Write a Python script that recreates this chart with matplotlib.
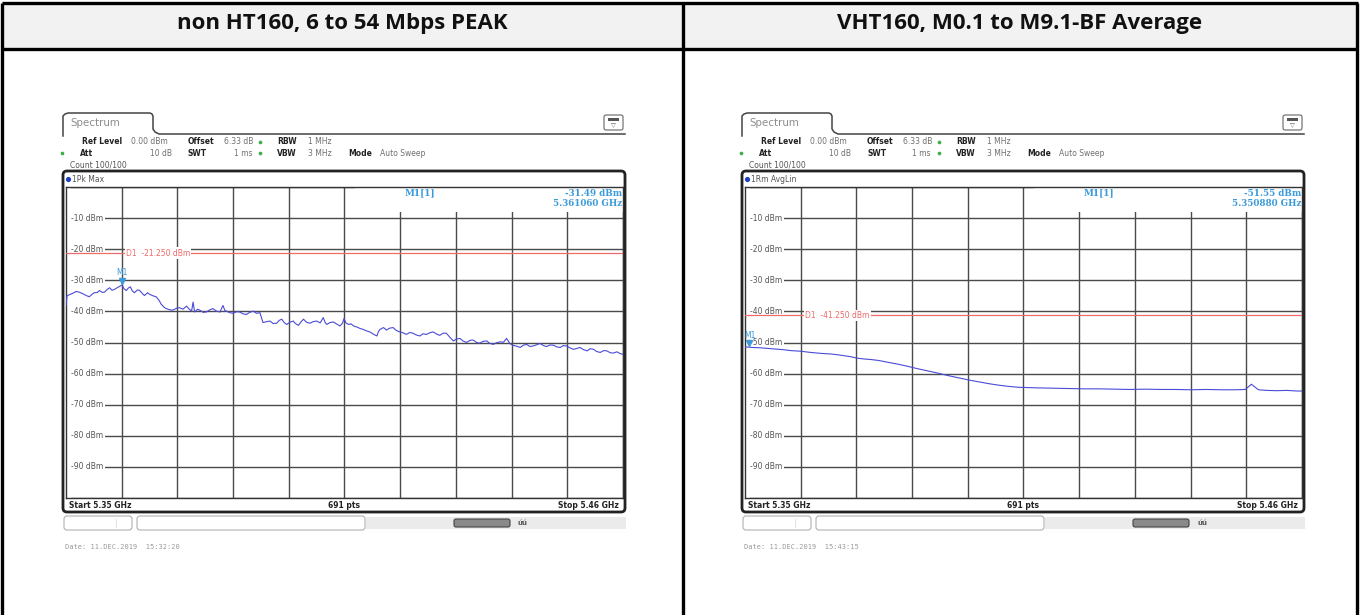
import matplotlib
matplotlib.use('Agg')
import matplotlib.pyplot as plt
import matplotlib.transforms as mtransforms
from matplotlib.patches import Rectangle, FancyBboxPatch
import numpy as np

# ---------------- data ----------------
titles = ['non HT160, 6 to 54 Mbps PEAK', 'VHT160, M0.1 to M9.1-BF Average']
trace_labels = ['1Pk Max', '1Rm AvgLin']
dates = ['Date: 11.DEC.2019  15:32:20', 'Date: 11.DEC.2019  15:43:15']
start_ghz, stop_ghz = 5.35, 5.46
sweep_pts = 691
y_top, y_bottom = 0, -100
y_tick_vals = [-10, -20, -30, -40, -50, -60, -70, -80, -90]
d1_levels = [-21.25, -41.25]
m1_freq_ghz = [5.361060, 5.350880]
m1_level = [-31.49, -51.55]

peak_freq_mhz = [
    5350.0, 5350.2, 5350.7, 5351.3, 5352.0, 5352.6, 5353.3, 5354.0, 5354.6, 5355.2,
    5355.6, 5356.2, 5356.6, 5357.2, 5357.6, 5358.1, 5358.6, 5359.1, 5359.6, 5360.2,
    5361.1, 5361.4, 5361.9, 5362.3, 5362.7, 5363.1, 5363.5, 5364.1, 5364.5, 5365.1,
    5365.5, 5366.1, 5366.5, 5367.2, 5367.8, 5368.4, 5368.8, 5369.4, 5369.8, 5370.5,
    5371.1, 5371.8, 5372.4, 5373.1, 5373.8, 5374.3, 5374.8, 5375.1, 5375.4, 5376.0,
    5376.4, 5377.1, 5377.7, 5378.4, 5379.0, 5379.7, 5380.4, 5381.0, 5381.4, 5381.7,
    5382.3, 5383.0, 5383.7, 5384.3, 5385.0, 5385.6, 5386.3, 5387.0, 5387.6, 5388.3,
    5388.6, 5388.9, 5389.6, 5390.3, 5390.9, 5391.6, 5392.1, 5392.6, 5393.1, 5393.6,
    5394.2, 5394.9, 5395.3, 5395.9, 5396.4, 5396.9, 5397.5, 5398.2, 5398.8, 5399.5,
    5400.2, 5400.8, 5401.2, 5401.5, 5402.1, 5402.8, 5403.5, 5404.1, 5404.6, 5404.9,
    5405.3, 5405.8, 5406.3, 5406.8, 5407.4, 5408.1, 5408.7, 5409.4, 5410.0, 5410.4,
    5410.9, 5411.4, 5411.7, 5412.0, 5412.7, 5413.3, 5413.9, 5414.6, 5415.2, 5415.9,
    5416.6, 5417.2, 5417.9, 5418.5, 5419.2, 5419.9, 5420.5, 5421.2, 5421.8, 5422.5,
    5423.2, 5423.8, 5424.5, 5425.1, 5425.8, 5426.5, 5427.1, 5427.8, 5428.4, 5429.1,
    5429.8, 5430.4, 5431.1, 5431.7, 5432.4, 5433.1, 5433.7, 5434.4, 5435.0, 5435.7,
    5436.4, 5437.0, 5437.7, 5438.3, 5439.0, 5439.7, 5440.3, 5441.0, 5441.6, 5442.3,
    5443.0, 5443.6, 5444.3, 5444.9, 5445.6, 5446.3, 5446.9, 5447.6, 5448.2, 5448.9,
    5449.6, 5450.2, 5450.9, 5451.5, 5452.2, 5452.9, 5453.5, 5454.2, 5454.8, 5455.5,
    5456.2, 5456.8, 5457.5, 5458.1, 5458.8, 5459.5, 5460.0]
peak_dbm = [
    -38.1, -35.0, -34.6, -34.2, -33.6, -33.8, -34.3, -34.9, -35.3, -34.4,
    -34.0, -33.9, -33.3, -33.9, -33.8, -33.0, -32.4, -33.2, -32.9, -32.3,
    -31.5, -32.6, -33.3, -32.5, -32.1, -33.4, -34.0, -33.1, -33.2, -34.3,
    -34.9, -34.0, -34.5, -35.0, -35.3, -36.5, -37.7, -38.7, -39.1, -39.5,
    -39.6, -39.0, -38.8, -39.3, -38.3, -39.2, -39.9, -37.0, -40.2, -39.3,
    -39.6, -40.3, -40.2, -39.5, -39.1, -39.9, -40.2, -38.1, -39.8, -39.9,
    -40.4, -40.6, -40.1, -40.2, -40.8, -41.0, -40.3, -39.9, -40.6, -40.4,
    -42.0, -43.6, -43.3, -43.1, -43.9, -43.8, -42.9, -42.5, -43.6, -44.2,
    -43.5, -43.1, -43.9, -44.5, -43.4, -42.5, -43.5, -43.8, -43.3, -43.1,
    -43.7, -42.0, -43.6, -44.2, -43.6, -43.4, -44.1, -44.7, -43.8, -42.3,
    -43.7, -44.2, -44.0, -44.7, -45.0, -45.5, -45.8, -46.3, -46.6, -47.0,
    -47.5, -47.9, -46.5, -45.8, -45.2, -46.0, -45.4, -45.2, -46.1, -46.6,
    -46.9, -47.4, -46.8, -47.0, -47.6, -47.9, -47.2, -47.4, -46.9, -46.6,
    -47.3, -47.7, -47.0, -47.0, -48.3, -49.5, -48.9, -48.7, -49.5, -50.0,
    -49.3, -49.2, -50.0, -50.2, -49.6, -49.5, -50.3, -50.6, -50.1, -49.8,
    -49.9, -48.7, -50.4, -50.9, -51.2, -51.6, -50.9, -50.6, -51.3, -51.1,
    -50.7, -50.3, -51.0, -51.3, -50.8, -50.9, -51.4, -51.6, -51.0, -51.1,
    -51.8, -52.2, -51.9, -51.6, -52.3, -52.7, -52.0, -52.2, -52.9, -53.2,
    -52.6, -52.7, -53.3, -53.4, -53.0, -53.6, -53.8]

avg_freq_mhz = [
    5350.0, 5351.5, 5353.0, 5354.5, 5356.0, 5357.5, 5359.0, 5361.0, 5363.0, 5365.0,
    5367.0, 5369.0, 5371.0, 5372.0, 5373.5, 5375.0, 5376.5, 5378.0, 5380.0, 5382.0,
    5384.0, 5386.0, 5388.0, 5390.0, 5392.0, 5394.0, 5396.0, 5398.0, 5400.0, 5402.0,
    5404.0, 5406.0, 5408.0, 5411.0, 5414.0, 5417.0, 5420.0, 5423.0, 5426.0, 5429.0,
    5432.0, 5435.0, 5438.0, 5441.0, 5444.0, 5447.0, 5448.8, 5449.6, 5450.0, 5450.6,
    5451.4, 5453.0, 5455.0, 5457.0, 5459.0, 5460.0]
avg_dbm = [
    -51.4, -51.6, -51.7, -51.9, -52.1, -52.3, -52.6, -52.8, -53.2, -53.5,
    -53.7, -54.1, -54.6, -55.0, -55.3, -55.5, -55.8, -56.3, -56.9, -57.6,
    -58.4, -59.1, -59.8, -60.6, -61.3, -62.0, -62.6, -63.2, -63.7, -64.1,
    -64.4, -64.5, -64.6, -64.7, -64.8, -64.9, -64.9, -65.0, -65.1, -65.0,
    -65.1, -65.1, -65.2, -65.1, -65.2, -65.2, -65.1, -64.0, -63.4, -64.2,
    -65.2, -65.4, -65.5, -65.4, -65.6, -65.6]

traces = [(peak_freq_mhz, peak_dbm), (avg_freq_mhz, avg_dbm)]

# ---------------- layout ----------------
W, H = 1360, 615
fig = plt.figure(figsize=(W / 100, H / 100), dpi=100)
ov = fig.add_axes([0, 0, 1, 1], zorder=0)
ov.set_xlim(0, W); ov.set_ylim(H, 0); ov.axis('off')

# table
BK = '#000000'
ov.add_patch(Rectangle((3, 4), 1354, 45, fc='#f2f2f2', ec='none'))
for (xa, xb, ya, yb) in [(2, 1358, 3, 3), (2, 1358, 49, 49), (2, 2, 3, 615),
                         (1357, 1357, 3, 615), (683, 683, 3, 615)]:
    ov.plot([xa, xb], [ya, yb], color=BK, lw=2.4, solid_capstyle='butt')
for i, t in enumerate(titles):
    cx = [342, 1020][i]
    ov.text(cx, 24, t, ha='center', va='center', fontsize=16, fontweight='bold',
            family='Open Sans', color='#111')

GT, GB, GW = 187, 498, 557
LBL = '#222222'
VAL = '#707070'
GREEN = '#3fae49'
MBLUE = '#3b9ad9'
RED = '#f06a6a'
TRACE = '#4b4bd8'
GRID = '#4a4a4a'
fs = 5.5

for i, gx in enumerate([66, 745]):
    # tab + header line
    tab_x = [gx - 3, gx - 3, gx - 1, gx + 2, gx + 84, gx + 86, gx + 87, gx + 87, gx + 89, gx + 93, gx + 559]
    tab_y = [136, 116, 114, 113, 113, 114, 116, 129, 132, 134, 134]
    ov.plot(tab_x, tab_y, color='#444', lw=1.1)
    ov.text(gx + 4, 123, 'Spectrum', fontsize=7.4, color='#8c8c8c', va='center', family='DejaVu Sans')
    # icon
    ov.add_patch(FancyBboxPatch((gx + 538, 115), 19, 15, boxstyle='round,pad=0,rounding_size=2',
                                ec='#666', fc='white', lw=0.8))
    ov.add_patch(Rectangle((gx + 542, 118), 11, 3, fc='#555', ec='none'))
    ov.text(gx + 547.5, 125.5, '\u25bd', fontsize=4.5, ha='center', va='center', color='#555')

    # info rows
    def lab(x, y, s, bold=True, ha='left', col=None):
        ov.text(x, y, s, fontsize=fs, ha=ha, va='center',
                fontweight='bold' if bold else 'normal',
                color=col if col else (LBL if bold else VAL), family='DejaVu Sans')
    lab(gx + 16, 142, 'Ref Level')
    lab(gx + 65, 142, f'{y_top:.2f} dBm', False)
    lab(gx + 122, 142, 'Offset')
    lab(gx + 158, 142, '6.33 dB', False)
    lab(gx + 211, 142, 'RBW')
    lab(gx + 242, 142, '1 MHz', False)
    lab(gx + 14, 153, 'Att')
    lab(gx + 106, 153, '10 dB', False, ha='right')
    lab(gx + 122, 153, 'SWT')
    lab(gx + 186, 153, '1 ms', False, ha='right')
    lab(gx + 211, 153, 'VBW')
    lab(gx + 242, 153, '3 MHz', False)
    lab(gx + 282, 153, 'Mode')
    lab(gx + 314, 153, 'Auto Sweep', False)
    lab(gx + 4, 165, 'Count 100/100', False, col='#555')
    lab(gx + 6, 179, trace_labels[i], False, col='#555')
    ov.scatter([gx + 194, gx - 4, gx + 194], [142, 153, 153], s=7, color=GREEN, marker='o', lw=0)
    ov.scatter([gx + 2], [179], s=14, color='#1d3fc4', marker='o', lw=0)

    # trace box frame
    ov.add_patch(FancyBboxPatch((gx - 3, 171), GW + 5, 341, boxstyle='round,pad=0,rounding_size=4',
                                ec='#222', fc='none', lw=2.0))
    # bottom bar
    lab(gx + 3, 505, f'Start {start_ghz} GHz')
    lab(gx + 278, 505, f'{sweep_pts} pts', ha='center')
    lab(gx + 553, 505, f'Stop {stop_ghz} GHz', ha='right')
    # buttons
    ov.add_patch(FancyBboxPatch((gx - 2, 516), 68, 14, boxstyle='round,pad=0,rounding_size=3',
                                ec='#b0b0b0', fc='white', lw=0.8))
    ov.plot([gx + 50, gx + 50], [519, 527], color='#dddddd', lw=0.6)
    ov.add_patch(FancyBboxPatch((gx + 71, 516), 228, 14, boxstyle='round,pad=0,rounding_size=3',
                                ec='#b0b0b0', fc='white', lw=0.8))
    ov.add_patch(Rectangle((gx + 300, 517), 260, 12, fc='#ebebeb', ec='none'))
    ov.add_patch(FancyBboxPatch((gx + 388, 519), 56, 8, boxstyle='round,pad=0,rounding_size=2',
                                ec='#444', fc='#8a8a8a', lw=0.8))
    ov.text(gx + 452, 523, '\u00fa\u00fa', fontsize=5, fontweight='bold', color='#555', va='center')
    # date
    ov.text(gx - 1, 547, dates[i], fontsize=5, family='DejaVu Sans Mono', color='#9a9a9a', va='center')

    # ---- trace axes ----
    ax = fig.add_axes([gx / W, 1 - GB / H, GW / W, (GB - GT) / H], zorder=1)
    ax.set_facecolor('none')
    ax.set_xlim(start_ghz, stop_ghz)
    ax.set_ylim(y_bottom, y_top)
    ax.set_xticks(np.linspace(start_ghz, stop_ghz, 11))
    ax.set_yticks(np.arange(y_bottom, y_top + 1, 10))
    ax.tick_params(length=0, labelbottom=False, labelleft=False)
    ax.set_axisbelow(True)
    ax.grid(True, color=GRID, lw=1.0)
    for s in ax.spines.values():
        s.set_color('#333'); s.set_linewidth(1.0)

    def axx(p):
        return p / GW

    def axy(py):
        return (GB - py) / (GB - GT)

    bt = mtransforms.blended_transform_factory(ax.transAxes, ax.transData)
    ax.add_patch(Rectangle((axx(289), axy(212)), 1 - axx(289), 1 - axy(212),
                           transform=ax.transAxes, fc='white', ec='none', zorder=2))
    ax.add_patch(Rectangle((0.002, 0), axx(4), 1, transform=ax.transAxes,
                           fc='white', ec='none', zorder=2))
    for v in y_tick_vals:
        ax.text(axx(5), v, f'{v} dBm', transform=bt, ha='left', va='center', fontsize=fs,
                color='#555', bbox=dict(fc='white', ec='none', pad=1.2), zorder=3)

    ax.text(axx(339), axy(193), 'M1[1]', transform=ax.transAxes, fontsize=6.4, color=MBLUE,
            fontweight='bold', family='DejaVu Serif', va='center', zorder=3.5)
    ax.text(axx(556), axy(193), f'{m1_level[i]:.2f} dBm', transform=ax.transAxes, fontsize=6.3,
            color=MBLUE, fontweight='bold', family='DejaVu Serif', va='center', ha='right', zorder=3.5)
    ax.text(axx(556), axy(204), f'{m1_freq_ghz[i]:.6f} GHz', transform=ax.transAxes, fontsize=6.3,
            color=MBLUE, fontweight='bold', family='DejaVu Serif', va='center', ha='right', zorder=3.5)

    d1 = d1_levels[i]
    ax.axhline(d1, color=RED, lw=0.9, zorder=4)
    ax.text(axx(60), d1, f'D1  {d1:.3f} dBm', transform=bt, fontsize=fs, color=RED, va='center',
            bbox=dict(fc='white', ec='none', pad=0.8), zorder=4.5)

    fq, lv = traces[i]
    ax.plot(np.array(fq) / 1000.0, lv, color=TRACE, lw=0.8, zorder=5)

    tri = mtransforms.offset_copy(ax.transData, fig=fig, x=0, y=4, units='dots')
    ax.plot([m1_freq_ghz[i]], [m1_level[i]], marker='v', ms=3.8, color=MBLUE, lw=0,
            transform=tri, zorder=6, clip_on=False)
    ax.annotate('M1', (m1_freq_ghz[i], m1_level[i]), xytext=(0, 12), textcoords='offset pixels',
                ha='center', va='center', fontsize=5.5, color=MBLUE, zorder=6, annotation_clip=False)

fig.savefig('out.png', dpi=100, facecolor='white')
